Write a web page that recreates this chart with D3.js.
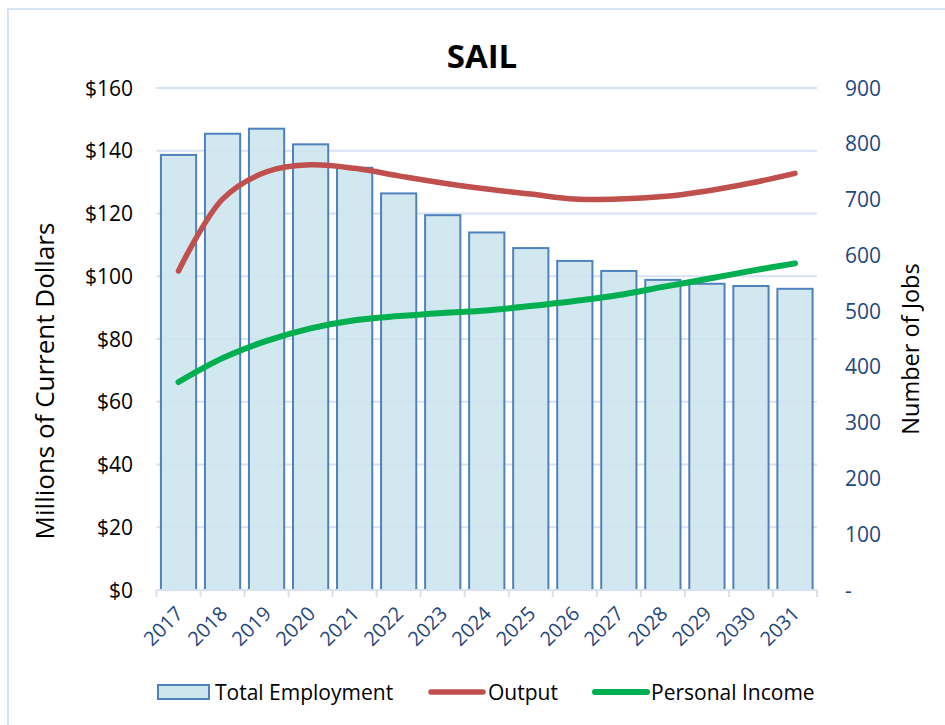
<!DOCTYPE html>
<html>
<head>
<meta charset="utf-8">
<script src="https://cdn.jsdelivr.net/npm/d3@7"></script>
<style>
  body { margin: 0; background: #fff; }
  svg { display: block; font-family: 'Open Sans', sans-serif; }
</style>
</head>
<body>
<svg id="chart" width="945" height="725"></svg>
<script>
const years = ['2017', '2018', '2019', '2020', '2021', '2022', '2023', '2024',
  '2025', '2026', '2027', '2028', '2029', '2030', '2031'];
// Number of jobs (right axis)
const totalEmployment = [780, 818, 827, 799, 757, 711, 672, 641, 613, 590, 572,
  556, 549, 545, 540];
// Millions of current dollars (left axis)
const output = [101.7, 124.6, 133.3, 135.5, 134.4, 132, 129.7, 127.8, 126.2,
  124.6, 124.6, 125.4, 127.2, 129.7, 132.8];
const personalIncome = [66.3, 73.9, 79.4, 83.4, 86, 87.3, 88.3, 89.1, 90.5,
  92.1, 94, 96.6, 99.1, 101.7, 104.1];
const dollarTicks = [0, 20, 40, 60, 80, 100, 120, 140, 160];
const jobTicks = [0, 100, 200, 300, 400, 500, 600, 700, 800, 900];

const width = 945;
const height = 725;
const plot = {left: 156.5, right: 817, top: 88, bottom: 590};
const barFill = '#cde6ee';
const barStroke = '#4f81bd';
const red = '#c0504d';
const green = '#00b050';
const grid = '#d6e2f2';
const axisBlue = '#1f497d';

const svg = d3.select('#chart');

// Chart area border
svg.append('rect')
  .attr('x', 8).attr('y', 9)
  .attr('width', width + 10).attr('height', height + 10)
  .attr('fill', 'none')
  .attr('stroke', '#d6e3f3')
  .attr('stroke-width', 2);

const x = d3.scaleBand()
  .domain(years)
  .range([plot.left, plot.right])
  .paddingInner(0.2)
  .paddingOuter(0.1);
const yLeft = d3.scaleLinear().domain([0, 160]).range([plot.bottom, plot.top]);
const yRight = d3.scaleLinear().domain([0, 900]).range([plot.bottom, plot.top]);
const cx = (d) => x(d) + x.bandwidth() / 2;

// Gridlines
svg.append('g')
  .selectAll('line')
  .data(dollarTicks.filter((d) => d > 0))
  .join('line')
  .attr('x1', plot.left).attr('x2', plot.right)
  .attr('y1', (d) => yLeft(d)).attr('y2', (d) => yLeft(d))
  .attr('stroke', grid)
  .attr('stroke-width', 2);

// Bars
svg.append('g')
  .selectAll('rect')
  .data(years)
  .join('rect')
  .attr('x', (d) => x(d))
  .attr('y', (d, i) => yRight(totalEmployment[i]))
  .attr('width', x.bandwidth())
  .attr('height', (d, i) => yRight(0) - yRight(totalEmployment[i]))
  .attr('fill', barFill)
  .attr('fill-opacity', 0.9)
  .attr('stroke', barStroke)
  .attr('stroke-width', 2);

// X axis line and tick marks at band boundaries
const xAxisG = svg.append('g');
xAxisG.append('line')
  .attr('x1', plot.left).attr('x2', plot.right)
  .attr('y1', plot.bottom).attr('y2', plot.bottom)
  .attr('stroke', grid).attr('stroke-width', 2);
const step = x.step();
xAxisG.selectAll('.tick')
  .data(d3.range(years.length + 1))
  .join('line')
  .attr('x1', (i) => plot.left + i * step)
  .attr('x2', (i) => plot.left + i * step)
  .attr('y1', plot.bottom).attr('y2', plot.bottom + 7)
  .attr('stroke', grid).attr('stroke-width', 2);
xAxisG.selectAll('text')
  .data(years)
  .join('text')
  .attr('transform', (d) => `translate(${cx(d) + 1},${plot.bottom + 20}) rotate(-45)`)
  .attr('text-anchor', 'end')
  .attr('dy', '0.35em')
  .attr('fill', axisBlue)
  .attr('font-size', '20px')
  .text((d) => d);

// Left axis labels
svg.append('g')
  .selectAll('text')
  .data(dollarTicks)
  .join('text')
  .attr('x', 133)
  .attr('y', (d) => yLeft(d))
  .attr('dy', '0.36em')
  .attr('text-anchor', 'end')
  .attr('font-size', '21px')
  .attr('fill', '#000')
  .text((d) => '$' + d);

// Right axis labels
svg.append('g')
  .selectAll('text')
  .data(jobTicks)
  .join('text')
  .attr('x', 845)
  .attr('y', (d) => yRight(d))
  .attr('dy', '0.36em')
  .attr('text-anchor', 'start')
  .attr('font-size', '21px')
  .attr('fill', axisBlue)
  .text((d) => (d === 0 ? '-' : d));

// Lines
const line = (vals) => d3.line()
  .x((d) => cx(d))
  .y((d, i) => yLeft(vals[i]))
  .curve(d3.curveCatmullRom.alpha(0.5))(years);

svg.append('path')
  .attr('d', line(output))
  .attr('fill', 'none')
  .attr('stroke', red)
  .attr('stroke-width', 5.5)
  .attr('stroke-linecap', 'round')
  .attr('stroke-linejoin', 'round');

svg.append('path')
  .attr('d', line(personalIncome))
  .attr('fill', 'none')
  .attr('stroke', green)
  .attr('stroke-width', 6)
  .attr('stroke-linecap', 'round')
  .attr('stroke-linejoin', 'round');

// Title
svg.append('text')
  .attr('x', 482).attr('y', 68)
  .attr('text-anchor', 'middle')
  .attr('font-size', '33px')
  .attr('font-weight', 'bold')
  .text('SAIL');

// Axis titles
svg.append('text')
  .attr('transform', 'translate(45,381) rotate(-90)')
  .attr('text-anchor', 'middle')
  .attr('dy', '0.35em')
  .attr('font-size', '26px')
  .text('Millions of Current Dollars');
svg.append('text')
  .attr('transform', 'translate(911,349) rotate(-90)')
  .attr('text-anchor', 'middle')
  .attr('dy', '0.35em')
  .attr('font-size', '23.5px')
  .text('Number of Jobs');

// Legend
const legend = svg.append('g').attr('font-size', '21px');
legend.append('rect')
  .attr('x', 158).attr('y', 685)
  .attr('width', 51).attr('height', 14)
  .attr('fill', barFill)
  .attr('stroke', barStroke)
  .attr('stroke-width', 2);
legend.append('text').attr('x', 215).attr('y', 692).attr('dy', '0.36em')
  .text('Total Employment');
legend.append('line')
  .attr('x1', 431).attr('x2', 483).attr('y1', 692).attr('y2', 692)
  .attr('stroke', red).attr('stroke-width', 5.5).attr('stroke-linecap', 'round');
legend.append('text').attr('x', 488).attr('y', 692).attr('dy', '0.36em')
  .text('Output');
legend.append('line')
  .attr('x1', 595).attr('x2', 647).attr('y1', 692).attr('y2', 692)
  .attr('stroke', green).attr('stroke-width', 6).attr('stroke-linecap', 'round');
legend.append('text').attr('x', 651).attr('y', 692).attr('dy', '0.36em')
  .text('Personal Income');
</script>
</body>
</html>
